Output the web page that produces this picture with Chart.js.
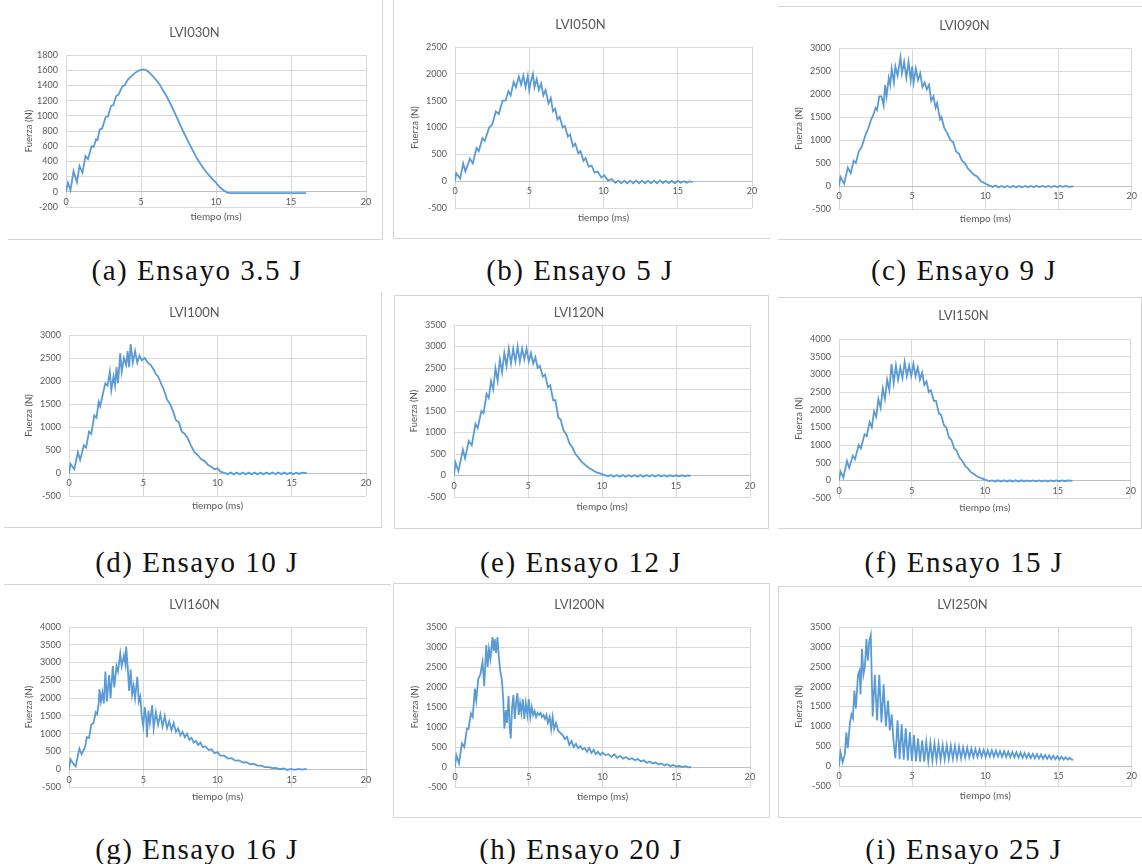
<!DOCTYPE html>
<html>
<head>
<meta charset="utf-8">
<script src="https://cdn.jsdelivr.net/npm/chart.js@4.4.1/dist/chart.umd.min.js"></script>
<style>
  body { margin: 0; background: #fff; width: 1142px; height: 864px; position: relative; overflow: hidden; }
  .frame { position: absolute; box-sizing: border-box; border: 0 solid #d4d4d4; }
  .panel { position: absolute; }
  .caption { position: absolute; transform: translate(-50%, -50%); white-space: nowrap;
             font-family: "Liberation Serif", serif; font-size: 29px; line-height: 1; color: #111;
             letter-spacing: 1.5px; }
</style>
</head>
<body>
<script>
// ---- data: force (N) vs time (ms) for every impact test ----
const titles = ['LVI030N', 'LVI050N', 'LVI090N', 'LVI100N', 'LVI120N', 'LVI150N', 'LVI160N', 'LVI200N', 'LVI250N'];
const captions = ['(a) Ensayo 3.5 J', '(b) Ensayo 5 J', '(c) Ensayo 9 J', '(d) Ensayo 10 J', '(e) Ensayo 12 J',
                  '(f) Ensayo 15 J', '(g) Ensayo 16 J', '(h) Ensayo 20 J', '(i) Ensayo 25 J'];
const yMin = [-200, -500, -500, -500, -500, -500, -500, -500, -500];
const yMax = [1800, 2500, 3000, 3000, 3500, 4000, 4000, 3500, 3500];
const yStep = [200, 500, 500, 500, 500, 500, 500, 500, 500];
const xTicks = [0, 5, 10, 15, 20];

const lvi030 = [[0,0],[0.13,120],[0.3,20],[0.5,270],[0.73,125],[0.9,340],[1.1,250],[1.3,470],[1.47,430],[1.7,600],
  [1.85,590],[2.0,690],[2.1,680],[2.25,820],[2.4,830],[2.65,985],[2.8,990],[3.0,1130],[3.15,1140],[3.35,1260],
  [3.5,1280],[3.76,1390],[3.9,1400],[4.14,1480],[4.3,1510],[4.6,1565],[4.8,1590],[5.0,1605],[5.2,1610],[5.35,1600],
  [5.55,1570],[5.8,1520],[6.0,1475],[6.25,1410],[6.45,1340],[6.7,1260],[7.0,1145],[7.25,1040],[7.5,930],[7.8,800],
  [8.1,680],[8.37,575],[8.65,470],[8.9,385],[9.2,300],[9.5,225],[9.75,170],[10.0,120],[10.25,60],[10.5,20],
  [10.75,-10],[11.0,-17],[12,-17],[13,-17],[14,-17],[15,-17],[16,-17]];

const lvi050 = [[0,0],[0.08,150],[0.35,50],[0.55,330],[0.7,180],[1.0,420],[1.2,330],[1.45,620],[1.6,560],[1.85,800],
  [2.0,750],[2.3,1000],[2.5,1050],[2.75,1300],[2.95,1250],[3.2,1500],[3.4,1500],[3.6,1680],[3.75,1600],[3.95,1850],
  [4.1,1750],[4.3,1950],[4.45,1800],[4.6,1970],[4.75,1750],[4.9,1960],[5.0,1700],[5.1,1850],[5.25,2000],[5.35,1750],
  [5.5,1900],[5.65,1700],[5.8,1820],[5.95,1600],[6.1,1700],[6.3,1450],[6.45,1550],[6.6,1300],[6.75,1350],[6.9,1150],
  [7.05,1200],[7.25,1000],[7.4,1030],[7.6,830],[7.75,870],[7.95,650],[8.1,700],[8.3,520],[8.45,560],[8.65,380],
  [8.8,430],[9.0,270],[9.2,290],[9.4,160],[9.6,180],[9.85,70],[10.05,110],[10.3,10],[10.55,40],[10.8,-30],
  [11.0,10],[11.2,-40],[11.4,10],[11.6,-40],[11.8,10],[12.0,-40],[12.2,10],[12.4,-40],[12.6,10],[12.8,-40],
  [13.0,10],[13.2,-40],[13.4,10],[13.6,-40],[13.8,10],[14.0,-35],[14.2,5],[14.4,-35],[14.6,5],[14.8,-35],
  [15.0,5],[15.2,-30],[15.4,0],[15.6,-30],[15.8,0],[16.0,-20]];

const lvi090 = [[0,0],[0.1,200],[0.35,50],[0.6,400],[0.8,280],[1.0,550],[1.15,500],[1.35,750],[1.55,850],[1.8,1100],
  [2.0,1250],[2.2,1450],[2.35,1550],[2.5,1700],[2.6,1650],[2.75,1950],[2.9,1950],[3.05,1750],[3.15,2200],[3.25,1950],
  [3.4,2350],[3.5,2200],[3.6,2550],[3.75,2250],[3.85,2600],[4.0,2400],[4.2,2800],[4.3,2450],[4.45,2700],[4.6,2350],
  [4.75,2700],[4.9,2300],[5.0,2600],[5.1,2250],[5.25,2550],[5.4,2300],[5.55,2450],[5.7,2150],[5.85,2250],[6.0,2100],
  [6.15,2200],[6.3,1850],[6.45,1950],[6.6,1700],[6.7,1800],[6.9,1450],[7.0,1500],[7.2,1250],[7.4,1150],[7.6,1000],
  [7.8,950],[8.0,750],[8.2,700],[8.4,550],[8.6,500],[8.8,380],[9.0,320],[9.2,250],[9.45,200],[9.7,100],
  [9.95,60],[10.2,20],[10.5,-20],[10.7,10],[10.9,-30],[11.1,0],[11.3,-30],[11.5,0],[11.7,-30],[11.9,0],
  [12.1,-30],[12.3,0],[12.5,-30],[12.7,0],[12.9,-30],[13.1,0],[13.3,-25],[13.5,0],[13.7,-25],[13.9,0],
  [14.1,-25],[14.3,0],[14.5,-25],[14.7,0],[14.9,-25],[15.1,0],[15.3,-20],[15.5,0],[15.7,-20],[16.0,-10]];

const lvi100 = [[0,0],[0.1,200],[0.35,80],[0.6,450],[0.75,280],[1.0,600],[1.15,550],[1.35,900],[1.5,850],[1.7,1250],
  [1.85,1200],[2.0,1550],[2.1,1450],[2.3,1750],[2.45,1950],[2.6,1900],[2.75,2200],[2.85,1800],[3.0,2100],[3.1,1900],
  [3.2,2300],[3.3,1950],[3.45,2600],[3.55,2200],[3.7,2500],[3.85,2350],[3.95,2650],[4.05,2300],[4.15,2800],[4.3,2400],
  [4.45,2650],[4.6,2400],[4.75,2550],[4.9,2450],[5.1,2500],[5.3,2400],[5.5,2350],[5.7,2250],[5.85,2150],[6.0,2100],
  [6.2,1950],[6.4,1800],[6.6,1600],[6.8,1500],[7.0,1350],[7.2,1150],[7.4,1100],[7.6,900],[7.8,850],[8.0,750],
  [8.2,600],[8.45,450],[8.7,380],[8.9,300],[9.1,270],[9.35,180],[9.6,130],[9.8,80],[10.0,100],[10.2,30],
  [10.5,0],[10.7,-25],[10.9,10],[11.1,-30],[11.3,10],[11.5,-30],[11.7,10],[11.9,-30],[12.1,10],[12.3,-30],
  [12.5,10],[12.7,-30],[12.9,10],[13.1,-30],[13.3,10],[13.5,-25],[13.7,10],[13.9,-25],[14.1,10],[14.3,-25],
  [14.5,10],[14.7,-25],[14.9,5],[15.1,-25],[15.3,5],[15.5,-20],[15.7,5],[16.0,0]];

const lvi120 = [[0,0],[0.1,300],[0.3,100],[0.6,600],[0.75,400],[1.0,800],[1.2,700],[1.45,1200],[1.6,1100],[1.85,1500],
  [2.0,1450],[2.2,1900],[2.35,1800],[2.5,2200],[2.65,2000],[2.8,2500],[2.95,2200],[3.1,2700],[3.25,2400],[3.4,2850],
  [3.55,2550],[3.7,2950],[3.85,2600],[4.0,2950],[4.15,2650],[4.3,3000],[4.45,2650],[4.6,2950],[4.75,2700],[4.9,2950],
  [5.05,2650],[5.2,2850],[5.35,2600],[5.5,2750],[5.65,2500],[5.8,2550],[6.0,2300],[6.15,2350],[6.35,2050],[6.5,2100],
  [6.7,1750],[6.85,1750],[7.05,1350],[7.2,1300],[7.4,1050],[7.6,950],[7.8,750],[8.0,650],[8.2,500],[8.4,420],
  [8.6,330],[8.85,250],[9.1,180],[9.35,130],[9.6,80],[9.85,50],[10.1,20],[10.4,-20],[10.6,10],[10.8,-30],
  [11.0,10],[11.2,-30],[11.4,10],[11.6,-30],[11.8,10],[12.0,-30],[12.2,10],[12.4,-30],[12.6,10],[12.8,-30],
  [13.0,10],[13.2,-25],[13.4,10],[13.6,-25],[13.8,10],[14.0,-25],[14.2,5],[14.4,-25],[14.6,5],[14.8,-20],
  [15.0,5],[15.2,-20],[15.4,5],[15.6,-20],[15.8,0],[16.0,-10]];

const lvi150 = [[0,0],[0.1,250],[0.3,80],[0.55,550],[0.7,350],[0.95,700],[1.1,600],[1.35,1000],[1.5,900],[1.75,1300],
  [1.9,1250],[2.1,1650],[2.25,1500],[2.4,1950],[2.55,1800],[2.7,2300],[2.85,2050],[3.0,2600],[3.15,2300],[3.3,2850],
  [3.45,2550],[3.6,3300],[3.75,2750],[3.9,3250],[4.05,2850],[4.2,3200],[4.35,2900],[4.5,3350],[4.65,2950],[4.8,3250],
  [4.95,2950],[5.1,3300],[5.25,2950],[5.4,3200],[5.55,2850],[5.7,3050],[5.85,2700],[6.0,2800],[6.15,2500],[6.3,2550],
  [6.5,2250],[6.65,2250],[6.85,1900],[7.0,1850],[7.2,1550],[7.35,1500],[7.55,1200],[7.7,1150],[7.9,900],[8.05,850],
  [8.25,650],[8.45,550],[8.65,400],[8.85,330],[9.05,230],[9.25,180],[9.5,100],[9.75,60],[10.0,20],[10.3,-20],
  [10.5,0],[10.7,-35],[10.9,0],[11.1,-35],[11.3,0],[11.5,-35],[11.7,0],[11.9,-35],[12.1,0],[12.3,-35],
  [12.5,0],[12.7,-30],[12.9,0],[13.1,-30],[13.3,0],[13.5,-30],[13.7,0],[13.9,-30],[14.1,0],[14.3,-30],
  [14.5,0],[14.7,-25],[14.9,0],[15.1,-25],[15.3,0],[15.5,-25],[15.7,0],[16.0,-15]];

const lvi160 = [[0,0],[0.1,280],[0.3,150],[0.45,80],[0.7,580],[0.85,420],[1.1,650],[1.2,900],[1.35,880],[1.5,1250],
  [1.65,1300],[1.8,1600],[1.9,1550],[2.0,1850],[2.05,2250],[2.15,1900],[2.25,2150],[2.35,1850],[2.45,2750],[2.55,1900],
  [2.7,2650],[2.8,2000],[2.95,2900],[3.05,2300],[3.2,2900],[3.3,2750],[3.45,3250],[3.55,2900],[3.7,3200],[3.8,2950],
  [3.85,3450],[3.95,2900],[4.05,2200],[4.15,2800],[4.25,2100],[4.35,2350],[4.45,2000],[4.6,2600],[4.7,1900],[4.8,2050],
  [4.9,1500],[5.0,1200],[5.1,1750],[5.2,1400],[5.25,900],[5.35,1650],[5.45,1300],[5.6,1800],[5.7,1150],[5.85,1600],
  [6.0,1250],[6.15,1550],[6.3,1200],[6.45,1500],[6.6,1150],[6.75,1350],[6.9,1100],[7.05,1300],[7.2,1050],[7.35,1150],
  [7.5,950],[7.65,1050],[7.8,900],[7.95,1000],[8.1,830],[8.25,880],[8.4,750],[8.55,800],[8.7,680],[8.85,750],
  [9.0,620],[9.2,640],[9.4,540],[9.6,560],[9.8,450],[10.0,480],[10.2,380],[10.45,380],[10.7,300],[10.95,310],
  [11.2,240],[11.45,250],[11.7,190],[11.95,200],[12.2,140],[12.45,150],[12.7,100],[12.95,100],[13.2,60],[13.45,60],
  [13.7,30],[13.95,40],[14.2,0],[14.45,20],[14.7,-20],[14.95,10],[15.2,-20],[15.45,10],[15.7,-10],[16.0,10]];

const lvi200 = [[0,0],[0.09,300],[0.27,90],[0.47,590],[0.63,500],[0.81,960],[0.92,950],[1.08,1340],[1.2,1250],[1.35,1960],
  [1.44,1670],[1.58,2210],[1.71,2300],[1.87,2630],[1.98,2020],[2.12,3050],[2.21,2500],[2.3,2950],[2.4,2700],[2.54,3250],
  [2.62,2900],[2.7,3200],[2.78,2850],[2.88,3250],[2.96,2800],[3.06,2420],[3.18,2170],[3.27,1700],[3.35,960],[3.45,1420],
  [3.53,1100],[3.63,1780],[3.71,1000],[3.78,715],[3.87,1500],[3.96,1800],[4.05,1200],[4.14,1600],[4.23,1850],[4.32,1300],
  [4.41,1600],[4.5,1350],[4.6,1700],[4.7,1200],[4.8,1600],[4.91,1300],[5.0,1700],[5.1,1250],[5.2,1500],[5.3,1300],
  [5.4,1400],[5.5,1250],[5.6,1350],[5.7,1300],[5.8,1350],[5.9,1250],[6.0,1300],[6.1,1200],[6.2,1300],[6.3,1100],
  [6.42,1250],[6.52,950],[6.62,1250],[6.72,950],[6.85,1100],[7.0,900],[7.15,850],[7.3,800],[7.45,700],[7.6,750],
  [7.75,550],[7.9,650],[8.05,500],[8.2,580],[8.35,470],[8.5,520],[8.65,440],[8.8,470],[8.95,380],[9.1,480],
  [9.25,350],[9.4,430],[9.55,320],[9.7,380],[9.85,300],[10.0,360],[10.2,300],[10.4,320],[10.6,250],[10.8,320],
  [11.0,230],[11.2,280],[11.4,210],[11.6,250],[11.8,190],[12.0,220],[12.2,170],[12.4,200],[12.6,140],[12.8,170],
  [13.0,110],[13.2,140],[13.4,90],[13.6,110],[13.8,60],[14.0,90],[14.2,40],[14.4,70],[14.6,20],[14.8,50],
  [15.0,10],[15.2,30],[15.4,0],[15.6,20],[15.8,-10],[16.0,0]];

const lvi250 = [[0,0],[0.1,350],[0.25,100],[0.4,300],[0.5,850],[0.6,450],[0.75,1100],[0.85,1300],[0.95,1200],[1.05,1900],
  [1.15,1450],[1.3,2300],[1.4,2400],[1.47,1800],[1.57,2950],[1.67,2300],[1.77,2500],[1.87,3200],[1.97,2650],[2.07,3150],
  [2.17,3300],[2.3,1250],[2.45,2300],[2.6,1150],[2.75,2300],[2.9,1100],[3.05,2050],[3.2,1000],[3.35,1650],[3.47,900],
  [3.6,1300],[3.72,650],[3.85,200],[4.0,1150],[4.14,170],[4.28,1050],[4.42,160],[4.56,950],[4.7,140],[4.84,860],
  [4.98,130],[5.12,780],[5.26,120],[5.4,700],[5.54,110],[5.68,650],[5.82,110],[5.96,610],[6.1,130],[6.24,590],
  [6.38,140],[6.52,570],[6.66,150],[6.8,550],[6.94,160],[7.08,530],[7.22,170],[7.36,520],[7.5,180],[7.64,510],
  [7.78,190],[7.92,500],[8.06,190],[8.2,490],[8.34,200],[8.48,470],[8.62,210],[8.76,460],[8.9,220],[9.04,440],
  [9.18,225],[9.32,430],[9.46,230],[9.6,420],[9.74,235],[9.88,410],[10.02,235],[10.16,400],[10.3,240],[10.44,395],
  [10.58,240],[10.72,390],[10.86,240],[11.0,380],[11.14,235],[11.28,375],[11.42,230],[11.56,365],[11.7,225],[11.84,355],
  [11.98,220],[12.12,350],[12.26,215],[12.4,340],[12.54,210],[12.68,330],[12.82,205],[12.96,320],[13.1,200],[13.24,310],
  [13.38,195],[13.52,300],[13.66,190],[13.8,290],[13.94,185],[14.08,280],[14.22,180],[14.36,270],[14.5,175],[14.64,260],
  [14.78,170],[14.92,250],[15.06,165],[15.2,240],[15.34,165],[15.48,225],[15.62,160],[15.76,210],[15.9,165],[16.0,160]];

const series = [lvi030, lvi050, lvi090, lvi100, lvi120, lvi150, lvi160, lvi200, lvi250];

// ---- layout of the 3x3 grid (page pixels) ----
// canvas: [x, y, w, h]; plot: [left, right, top, bottom]; titleY: centre of chart title; yW: width of y axis block
const panels = [
  { canvas: [8, 0, 374, 240],   plot: [66, 366, 55, 207],    titleY: 33,  yW: 43 },
  { canvas: [393, 0, 377, 238], plot: [455, 752, 47, 208],   titleY: 25,  yW: 46 },
  { canvas: [786, 6, 356, 233], plot: [839, 1136, 48, 209],  titleY: 26,  yW: 46 },
  { canvas: [5, 290, 376, 237], plot: [69, 366, 335, 496],   titleY: 313, yW: 46 },
  { canvas: [394, 295, 374, 233], plot: [454, 750, 325, 497], titleY: 313, yW: 46 },
  { canvas: [787, 296, 354, 232], plot: [839, 1134, 339, 498], titleY: 316, yW: 46 },
  { canvas: [5, 585, 380, 235], plot: [69, 366, 627, 787],   titleY: 605, yW: 46 },
  { canvas: [394, 583, 374, 234], plot: [455, 750, 627, 787], titleY: 605, yW: 46 },
  { canvas: [786, 586, 356, 231], plot: [839, 1132, 627, 786], titleY: 605, yW: 46 }
];
// captions: [centre x, centre y]
const captionPos = [[197, 270], [580, 270], [964, 270], [197, 562], [581, 562], [964, 562], [197, 849], [581, 849], [964, 849]];
// light borders left over from the pasted chart images: [x, y, w, h, sides]
const frames = [
  [8, -1, 375, 241, 'rb'], [393, -1, 377, 240, 'lb'], [778, 6, 365, 234, 'tb'],
  [4, 292, 378, 236, 'rb'], [394, 295, 375, 234, 'tlrb'], [778, 297, 364, 232, 'trb'],
  [4, 584, 387, 2, 't'], [393, 583, 377, 235, 'tlrb'], [778, 586, 365, 232, 'tlb']
];

const textGrey = '#595959';
const gridGrey = '#d9d9d9';
const lineBlue = '#5b9bd5';
const sans = 'Lato, "Open Sans", sans-serif';

frames.forEach(f => {
  const d = document.createElement('div');
  d.className = 'frame';
  d.style.left = f[0] + 'px'; d.style.top = f[1] + 'px';
  d.style.width = f[2] + 'px'; d.style.height = f[3] + 'px';
  if (f[4].includes('t')) d.style.borderTopWidth = '1px';
  if (f[4].includes('l')) d.style.borderLeftWidth = '1px';
  if (f[4].includes('r')) d.style.borderRightWidth = '1px';
  if (f[4].includes('b')) d.style.borderBottomWidth = '1px';
  document.body.appendChild(d);
});

function makeChart(i) {
  const p = panels[i];
  const [cx, cy, cw, ch] = p.canvas;
  const [L, R, T, B] = p.plot;
  const titleLine = 13 * 1.2;
  const xTitleH = 16;

  const box = document.createElement('div');
  box.className = 'panel';
  box.style.left = cx + 'px'; box.style.top = cy + 'px';
  box.style.width = cw + 'px'; box.style.height = ch + 'px';
  const canvas = document.createElement('canvas');
  canvas.width = cw; canvas.height = ch;
  box.appendChild(canvas);
  document.body.appendChild(box);

  new Chart(canvas, {
    type: 'line',
    data: {
      datasets: [{
        data: series[i],
        borderColor: lineBlue,
        borderWidth: 1.8,
        pointRadius: 0,
        tension: 0,
        fill: false
      }]
    },
    options: {
      responsive: false,
      animation: false,
      events: [],
      layout: {
        padding: { left: L - cx - p.yW, right: cx + cw - R, top: 0, bottom: cy + ch - B - xTitleH }
      },
      plugins: {
        legend: { display: false },
        tooltip: { enabled: false },
        title: {
          display: true,
          text: titles[i],
          color: textGrey,
          font: { family: sans, size: 13, weight: 'normal' },
          padding: { top: p.titleY - cy - titleLine / 2, bottom: T - p.titleY - titleLine / 2 }
        }
      },
      scales: {
        x: {
          type: 'linear',
          min: 0, max: 20,
          position: { y: 0 },           // category labels sit on the zero line, as in Excel
          afterBuildTicks: s => { s.ticks = xTicks.map(v => ({ value: v })); },
          ticks: { color: textGrey, font: { family: sans, size: 9 }, padding: 5, maxRotation: 0 },
          grid: { color: gridGrey, drawTicks: false },
          border: { color: '#bfbfbf', width: 1 }
        },
        x2: {
          type: 'linear',
          position: 'bottom',
          min: 0, max: 20,
          ticks: { display: false },
          grid: { display: false },
          border: { display: false },
          title: { display: true, text: 'tiempo (ms)', color: textGrey, font: { family: sans, size: 10 }, padding: 0 },
          afterFit: s => { s.height = xTitleH; }
        },
        y: {
          min: yMin[i], max: yMax[i],
          ticks: { stepSize: yStep[i], color: textGrey, font: { family: sans, size: 9 }, padding: 8, callback: v => String(v) },
          grid: { color: gridGrey, drawTicks: false },
          border: { display: false },
          title: { display: true, text: 'Fuerza (N)', color: textGrey, font: { family: sans, size: 9.5 }, padding: 0 },
          afterFit: s => { s.width = p.yW; }
        }
      }
    }
  });

  const cap = document.createElement('div');
  cap.className = 'caption';
  cap.textContent = captions[i];
  cap.style.left = captionPos[i][0] + 'px';
  cap.style.top = captionPos[i][1] + 'px';
  document.body.appendChild(cap);
}

for (let i = 0; i < series.length; i++) makeChart(i);
</script>
</body>
</html>
